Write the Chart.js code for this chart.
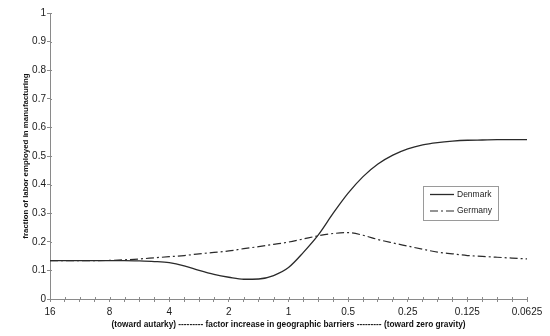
<!DOCTYPE html>
<html lang="en">
<head>
    <meta charset="UTF-8">
    <title>Manufacturing share vs. geographic barriers</title>
    <script src="https://cdn.jsdelivr.net/npm/chart.js"></script>
    <style>
        html, body { margin: 0; padding: 0; background: #fff; }
        #wrap { width: 550px; height: 336px; }
    </style>
</head>
<body>
    <div id="wrap"><canvas id="chart" width="550" height="336"></canvas></div>
    <script>
        // barrier factor, sampled every quarter doubling from 16 down to 0.0625
        var barrierLabels = ['16', '8', '4', '2', '1', '0.5', '0.25', '0.125', '0.0625'];
        var stepsPerLabel = 4;

        var denmark = [
            0.134, 0.134, 0.134, 0.134, 0.134, 0.134, 0.133, 0.131,
            0.127, 0.116, 0.100, 0.086, 0.076, 0.069, 0.070, 0.082,
            0.110, 0.163, 0.224, 0.300, 0.370, 0.428, 0.472, 0.503,
            0.525, 0.539, 0.547, 0.552, 0.555, 0.556, 0.557, 0.557,
            0.557
        ];
        var germany = [
            0.134, 0.134, 0.134, 0.134, 0.135, 0.137, 0.140, 0.144,
            0.148, 0.152, 0.158, 0.163, 0.168, 0.176, 0.183, 0.191,
            0.199, 0.210, 0.221, 0.229, 0.232, 0.223, 0.208, 0.196,
            0.185, 0.174, 0.164, 0.158, 0.152, 0.149, 0.146, 0.143,
            0.140
        ];
        var yTicks = ['0', '0.1', '0.2', '0.3', '0.4', '0.5', '0.6', '0.7', '0.8', '0.9', '1'];

        // one category per quarter step; only whole doublings get a label
        var categories = denmark.map(function (v, i) {
            return i % stepsPerLabel === 0 ? barrierLabels[i / stepsPerLabel] : '';
        });

        var axisGrey = '#8a8a8a';
        var inkColor = '#2a2a2a';
        var fontFamily = '"Liberation Sans", Arial, sans-serif';

        // tick marks poke a little into the plot as well
        var innerTicks = {
            id: 'innerTicks',
            afterDraw: function (chart) {
                var ctx = chart.ctx;
                var xs = chart.scales.x, ys = chart.scales.y;
                ctx.save();
                ctx.strokeStyle = axisGrey;
                ctx.lineWidth = 1;
                ctx.beginPath();
                xs.ticks.forEach(function (t, i) {
                    var px = Math.round(xs.getPixelForTick(i)) + 0.5;
                    ctx.moveTo(px, xs.top);
                    ctx.lineTo(px, xs.top - 2);
                });
                ys.ticks.forEach(function (t, i) {
                    var py = Math.round(ys.getPixelForTick(i)) + 0.5;
                    ctx.moveTo(ys.right, py);
                    ctx.lineTo(ys.right + 2, py);
                });
                ctx.stroke();
                ctx.restore();
            }
        };

        // small boxed legend sitting inside the plot
        var boxLegend = {
            id: 'boxLegend',
            afterDraw: function (chart) {
                var ctx = chart.ctx;
                var x = 423, y = 186, w = 75, h = 34;
                ctx.save();
                ctx.fillStyle = '#fff';
                ctx.fillRect(x, y, w, h);
                ctx.strokeStyle = '#9a9a9a';
                ctx.lineWidth = 1;
                ctx.strokeRect(x + 0.5, y + 0.5, w, h);
                ctx.font = '8.5px ' + fontFamily;
                ctx.textBaseline = 'middle';
                chart.data.datasets.forEach(function (ds, i) {
                    var ly = y + 8.5 + i * 16.5;
                    ctx.beginPath();
                    ctx.setLineDash(ds.borderDash || []);
                    ctx.strokeStyle = ds.borderColor;
                    ctx.lineWidth = ds.borderWidth;
                    ctx.moveTo(x + 7, ly);
                    ctx.lineTo(x + 31, ly);
                    ctx.stroke();
                    ctx.setLineDash([]);
                    ctx.fillStyle = '#222';
                    ctx.fillText(ds.label, x + 34, ly);
                });
                ctx.restore();
            }
        };

        var chart = new Chart(document.getElementById('chart'), {
            type: 'line',
            data: {
                labels: categories,
                datasets: [{
                    label: 'Denmark',
                    data: denmark,
                    borderColor: inkColor,
                    borderWidth: 1.3,
                    pointRadius: 0,
                    cubicInterpolationMode: 'monotone',
                    fill: false
                }, {
                    label: 'Germany',
                    data: germany,
                    borderColor: inkColor,
                    borderWidth: 1.2,
                    borderDash: [8, 3, 2, 3],
                    pointRadius: 0,
                    cubicInterpolationMode: 'monotone',
                    fill: false
                }]
            },
            options: {
                responsive: false,
                animation: false,
                devicePixelRatio: 1,
                layout: { padding: { top: 13, right: 23, left: 0, bottom: 0 } },
                plugins: {
                    legend: { display: false },
                    tooltip: { enabled: false }
                },
                scales: {
                    x: {
                        type: 'category',
                        offset: false,
                        afterFit: function (scale) { scale.height = 37; },
                        border: { color: axisGrey, width: 1 },
                        grid: { drawOnChartArea: false, drawTicks: true, tickLength: 3, color: axisGrey },
                        ticks: {
                            autoSkip: false,
                            maxRotation: 0,
                            padding: 4,
                            color: '#1a1a1a',
                            font: { size: 10, family: fontFamily }
                        },
                        title: {
                            display: true,
                            text: '(toward autarky) --------- factor increase in geographic barriers --------- (toward zero gravity)',
                            color: '#111',
                            font: { size: 8.3, weight: 'bold', family: fontFamily },
                            padding: { top: 0, bottom: 6 }
                        }
                    },
                    y: {
                        min: 0,
                        max: 1,
                        afterFit: function (scale) { scale.width = 50; },
                        border: { color: axisGrey, width: 1 },
                        grid: { drawOnChartArea: false, drawTicks: true, tickLength: 3, color: axisGrey },
                        ticks: {
                            stepSize: 0.1,
                            padding: 1,
                            color: '#1a1a1a',
                            font: { size: 10, family: fontFamily },
                            callback: function (value, index) { return yTicks[index]; }
                        },
                        title: {
                            display: true,
                            text: 'fraction of labor employed in manufacturing',
                            color: '#111',
                            font: { size: 7.9, weight: 'bold', family: fontFamily },
                            padding: { top: 21, bottom: 0 }
                        }
                    }
                }
            },
            plugins: [innerTicks, boxLegend]
        });
    </script>
</body>
</html>
